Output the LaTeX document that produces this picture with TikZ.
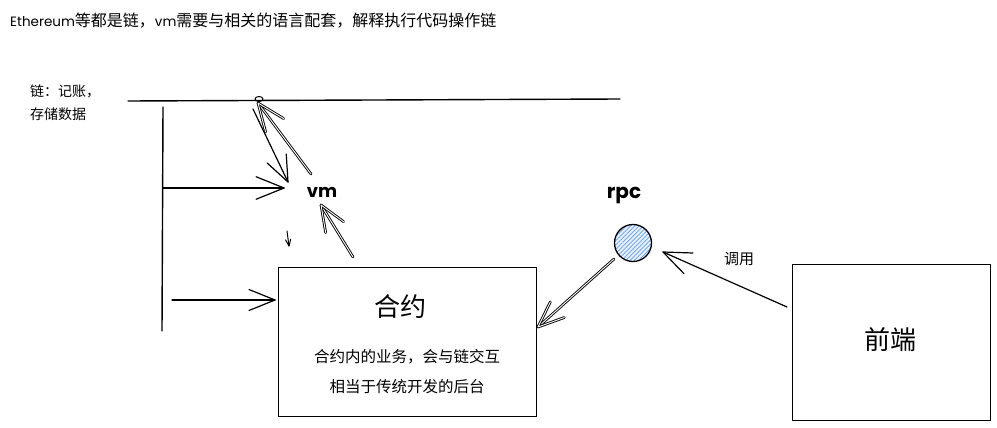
\documentclass[tikz,border=0pt]{standalone}
\usepackage{fontspec}
\setmainfont{Noto Sans CJK SC}
\newfontfamily\hand{Poppins}
\usetikzlibrary{calc,patterns.meta}
\tikzset{
  sk/.style={line width=1.2pt, black, line cap=round, line join=round},
  dbl/.style={sk, double=white, double distance=0.9pt, line width=0.9pt},
  box/.style={draw, line width=1.3pt, rectangle, inner sep=0pt},
  lbl/.style={font=\fontsize{14pt}{17pt}\selectfont, inner sep=0pt},
}
% sketch arrow: #1 style, #2 start, #3 tip, #4 wing length
\newcommand{\skarrow}[4]{%
  \draw[#1] (#2) -- (#3);
  \draw[#1] ($(#3)!#4!22:(#2)$) -- (#3) -- ($(#3)!#4!-22:(#2)$);
}
\begin{document}
\begin{tikzpicture}[x=1pt,y=-1pt]
\useasboundingbox[fill=white] (0,0) rectangle (997,428);

% texts
\node[lbl, anchor=west, font=\fontsize{16pt}{17pt}\selectfont] (title) at (10,21) {{\hand\fontsize{13.5pt}{17pt}\selectfont Ethereum}等都是链，{\hand\fontsize{13.5pt}{17pt}\selectfont vm}需要与相关的语言配套，解释执行代码操作链};
\node[lbl, anchor=north west, align=left, font=\fontsize{14pt}{23pt}\selectfont] (chainlbl) at (30,84) {链：记账，\\存储数据};

% chain line and trunk
\coordinate (chainL) at (128,101);
\coordinate (chainR) at (620,99);
\draw[sk, line width=1.4pt] (chainL) -- (chainR);
\coordinate (trunkTop) at (163,107);
\coordinate (trunkBot) at (162,331);
\draw[sk, line width=1.4pt] (trunkTop) -- (trunkBot);

% loop on chain
\coordinate (loop) at (259,99);
\draw[sk, line width=1pt] (loop) ellipse (4pt and 2.5pt);

% vm
\node[font=\hand\fontsize{18pt}{20pt}\selectfont\bfseries, inner sep=1pt] (vm) at (322,192) {vm};

% contract box
\node[box, anchor=north west, minimum width=258pt, minimum height=149pt] (contract) at (278,267) {};
\node[inner sep=0pt, font=\fontsize{26pt}{30pt}\selectfont] (ctitle) at (400,307) {合约};
\node[inner sep=0pt, font=\fontsize{15.5pt}{30pt}\selectfont, align=center] (ctext) at (407,372) {合约内的业务，会与链交互\\相当于传统开发的后台};

% front box
\node[box, anchor=north west, minimum width=198pt, minimum height=156pt] (front) at (792,264) {};
\node[inner sep=0pt, font=\fontsize{26pt}{30pt}\selectfont] (ftitle) at (890,340) {前端};

% rpc circle
\node[circle, draw, line width=1.3pt, minimum size=37pt, inner sep=0pt,
      preaction={fill=blue!6},
      pattern={Lines[angle=45,distance=3pt,line width=0.9pt]}, pattern color=blue!55!cyan!60] (rpc) at (633,243) {};
\node[font=\hand\fontsize{20pt}{20pt}\selectfont\bfseries, inner sep=0pt] (rpclbl) at (624,195) {rpc};
\node[lbl, font=\fontsize{15pt}{17pt}\selectfont] (call) at (739,259) {调用};

% arrows from trunk
\coordinate (b1) at (163,188);
\coordinate (b1e) at (284,188);
\skarrow{sk}{b1}{b1e}{30pt}
\coordinate (b2) at (172,300);
\coordinate (b2e) at (275,300);
\skarrow{sk}{b2}{b2e}{28pt}

% chain <-> vm arrows
\coordinate (v1s) at (253,109);
\coordinate (v1e) at (288,182);
\skarrow{sk}{v1s}{v1e}{28pt}
\coordinate (v2s) at (311,174);
\coordinate (v2e) at (258,103);
\skarrow{dbl}{v2s}{v2e}{30pt}
\coordinate (v3s) at (353,257);
\coordinate (v3e) at (321,205);
\skarrow{dbl}{v3s}{v3e}{28pt}
\coordinate (s1) at (287,231);
\coordinate (s1e) at (289,246);
\skarrow{sk,line width=1pt}{s1}{s1e}{7pt}

% rpc arrows
\coordinate (r1s) at (614,259);
\coordinate (r1e) at (538,327);
\skarrow{dbl}{r1s}{r1e}{28pt}
\coordinate (r2s) at (787,307);
\coordinate (r2e) at (663,252);
\skarrow{sk}{r2s}{r2e}{30pt}
\end{tikzpicture}
\end{document}
